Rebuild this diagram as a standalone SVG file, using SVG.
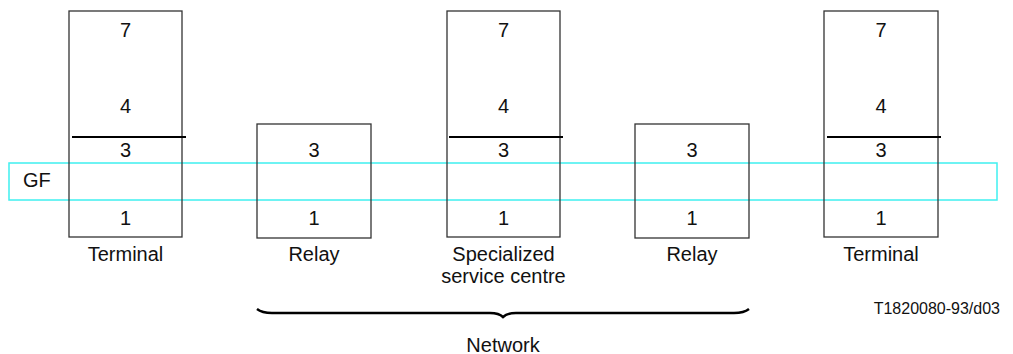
<svg xmlns="http://www.w3.org/2000/svg" width="1013" height="354" viewBox="0 0 1013 354">
<style>
text{font-family:"Liberation Sans",Arial,sans-serif;font-size:20px;fill:#111;text-anchor:middle}
.box{fill:none;stroke:#333;stroke-width:1.3}
.sep{stroke:#000;stroke-width:2}
.gf{fill:none;stroke:#3ff0f0;stroke-width:1.5}
</style>
<rect x="0" y="0" width="1013" height="354" fill="#fff"/>
<g id="gf">
<rect class="gf" x="9" y="163" width="988" height="37"/>
<text x="23" y="187" style="text-anchor:start">GF</text>
</g>
<g id="terminal1">
<rect class="box" x="69" y="11" width="113" height="226"/>
<line class="sep" x1="72" y1="137" x2="186" y2="137"/>
<text x="125.5" y="37">7</text><text x="125.5" y="113">4</text><text x="125.5" y="157">3</text><text x="125.5" y="225">1</text>
<text x="125.5" y="261">Terminal</text>
</g>
<g id="relay1">
<rect class="box" x="257" y="124" width="114" height="114"/>
<text x="314" y="157">3</text><text x="314" y="225">1</text>
<text x="314" y="261">Relay</text>
</g>
<g id="ssc">
<rect class="box" x="447" y="11" width="113" height="226"/>
<line class="sep" x1="449" y1="137" x2="563" y2="137"/>
<text x="503.5" y="37">7</text><text x="503.5" y="113">4</text><text x="503.5" y="157">3</text><text x="503.5" y="225">1</text>
<text x="503.5" y="261">Specialized</text><text x="503.5" y="283">service centre</text>
</g>
<g id="relay2">
<rect class="box" x="635" y="124" width="114" height="114"/>
<text x="692" y="157">3</text><text x="692" y="225">1</text>
<text x="692" y="261">Relay</text>
</g>
<g id="terminal2">
<rect class="box" x="824" y="11" width="114" height="226"/>
<line class="sep" x1="827" y1="137" x2="941" y2="137"/>
<text x="881" y="37">7</text><text x="881" y="113">4</text><text x="881" y="157">3</text><text x="881" y="225">1</text>
<text x="881" y="261">Terminal</text>
</g>
<g id="network">
<path d="M257 309 Q262 313 272 313 L490 313 Q499 313 503 317 Q507 313 516 313 L734 313 Q744 313 749 309" fill="none" stroke="#000" stroke-width="2.5"/>
<text x="503" y="352">Network</text>
</g>
<g id="connectors"></g>
<text x="1000" y="314" style="text-anchor:end;font-size:16px">T1820080-93/d03</text>
</svg>
